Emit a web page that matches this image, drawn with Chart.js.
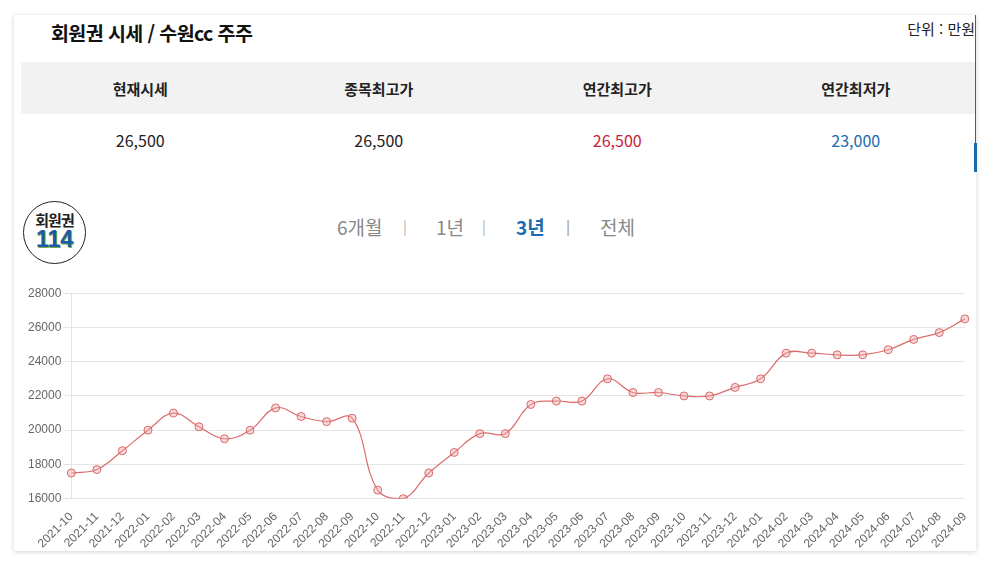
<!DOCTYPE html>
<html lang="ko">
<head>
<meta charset="utf-8">
<script src="https://cdn.jsdelivr.net/npm/chart.js@4"></script>
<style>
  html, body { margin: 0; padding: 0; background: #fff; width: 993px; height: 566px; overflow: hidden; }
  body { font-family: "Noto Sans CJK KR", "Noto Sans", sans-serif; position: relative; }
  .card { position: absolute; left: 14px; top: 15px; width: 962px; height: 536px; background: #fff;
          box-shadow: 0 1px 5px rgba(0,0,0,0.18); }
  .scroll { position: absolute; left: 975px; top: 15px; width: 1px; height: 157px; background: #1a6bb0; }
  .scroll2 { position: absolute; left: 974px; top: 143px; width: 3px; height: 29px; background: #1a6bb0; }
  .title { position: absolute; left: 51px; top: 18px; font-size: 19.5px; font-weight: bold; color: #111; letter-spacing: -0.6px; }
  .unit { position: absolute; right: 18px; top: 18px; font-size: 15px; color: #222; }
  table { position: absolute; left: 21px; top: 62px; width: 954px; border-collapse: collapse; }
  th, td { padding: 0; }
  th { background: #f2f2f2; height: 52px; font-size: 15px; font-weight: bold; color: #222; width: 25%; }
  td { height: 52px; text-align: center; font-size: 16px; color: #222; }
  td.red { color: #c8223c; }
  td.blue { color: #1a6bb0; }
  .logo { position: absolute; left: 23px; top: 201px; width: 61px; height: 61px; border: 1.5px solid #222;
          border-radius: 50%; text-align: center; }
  .logo .a { position: absolute; left: 0; right: 0; top: 7px; font-size: 15px; font-weight: bold; color: #222; letter-spacing: -1px; }
  .logo .b { position: absolute; left: 0; right: 0; top: 24px; font-size: 23px; font-weight: 900; color: #1a5aa8;
             font-family: "Liberation Sans Narrow", "Liberation Sans", sans-serif; text-shadow: 1px 1px 0 #7fa84a; }
  .tabs { position: absolute; left: 0; top: 213px; width: 993px; font-size: 19px; color: #888; }
  .tabs span { position: absolute; }
  .tabs .on { color: #1a6bb0; font-weight: bold; }
  .tabs .sep { font-size: 14px; color: #aaa; top: 3px; }
  .chart-box { position: absolute; left: 22px; top: 284px; width: 956px; height: 270px; }
</style>
</head>
<body>
<div class="card"></div>
<div class="scroll"></div>
<div class="scroll2"></div>
<div class="title">회원권 시세 / 수원cc 주주</div>
<div class="unit">단위 : 만원</div>
<table>
  <tr><th>현재시세</th><th>종목최고가</th><th>연간최고가</th><th>연간최저가</th></tr>
  <tr><td>26,500</td><td>26,500</td><td class="red">26,500</td><td class="blue">23,000</td></tr>
</table>
<div class="logo"><div class="a">회원권</div><div class="b">114</div></div>
<div class="tabs">
  <span style="left:337px">6개월</span>
  <span class="sep" style="left:403px">|</span>
  <span style="left:436px">1년</span>
  <span class="sep" style="left:482px">|</span>
  <span class="on" style="left:516px">3년</span>
  <span class="sep on" style="left:566px">|</span>
  <span style="left:600px">전체</span>
</div>
<div class="chart-box"><canvas id="priceChart"></canvas></div>
<script>
// 월별 시세 (단위: 만원)
const months = [
  '2021-10', '2021-11', '2021-12',
  '2022-01', '2022-02', '2022-03', '2022-04', '2022-05', '2022-06',
  '2022-07', '2022-08', '2022-09', '2022-10', '2022-11', '2022-12',
  '2023-01', '2023-02', '2023-03', '2023-04', '2023-05', '2023-06',
  '2023-07', '2023-08', '2023-09', '2023-10', '2023-11', '2023-12',
  '2024-01', '2024-02', '2024-03', '2024-04', '2024-05', '2024-06',
  '2024-07', '2024-08', '2024-09'
];
const prices = [
  17500, 17700, 18800,
  20000, 21000, 20200, 19500, 20000, 21300,
  20800, 20500, 20700, 16500, 16000, 17500,
  18700, 19800, 19800, 21500, 21700, 21700,
  23000, 22200, 22200, 22000, 22000, 22500,
  23000, 24500, 24500, 24400, 24400, 24700,
  25300, 25700, 26500
];
const yMin = 16000;
const yMax = 28000;
const yStep = 2000;

const ctx = document.getElementById('priceChart');
new Chart(ctx, {
  type: 'line',
  data: {
    labels: months,
    datasets: [{
      label: '시세',
      data: prices,
      borderColor: 'rgba(214, 92, 92, 0.9)',
      backgroundColor: 'rgba(232, 150, 150, 0.45)',
      pointBorderColor: 'rgba(214, 92, 92, 0.9)',
      pointBackgroundColor: 'rgba(240, 170, 170, 0.45)',
      pointRadius: 4,
      pointBorderWidth: 1,
      borderWidth: 1.2,
      fill: false,
      tension: 0.4
    }]
  },
  options: {
    responsive: true,
    maintainAspectRatio: false,
    animation: false,
    layout: { padding: { left: 4, right: 2, top: 5, bottom: 0 } },
    plugins: {
      legend: { display: false },
      tooltip: { enabled: false }
    },
    scales: {
      x: {
        offset: false,
        grid: { display: false },
        border: { display: true, color: '#e5e5e5' },
        ticks: {
          color: '#666',
          font: { family: 'Liberation Sans, Arial, sans-serif', size: 12 },
          maxRotation: 45, minRotation: 45,
          autoSkip: false
        }
      },
      y: {
        min: yMin,
        max: yMax,
        grid: { color: '#e5e5e5', drawTicks: true, tickLength: 8 },
        border: { display: true, color: '#e5e5e5' },
        ticks: {
          stepSize: yStep,
          color: '#666',
          font: { family: 'Liberation Sans, Arial, sans-serif', size: 12 },
          padding: 2,
          callback: value => String(value)
        }
      }
    }
  }
});
</script>
</body>
</html>
